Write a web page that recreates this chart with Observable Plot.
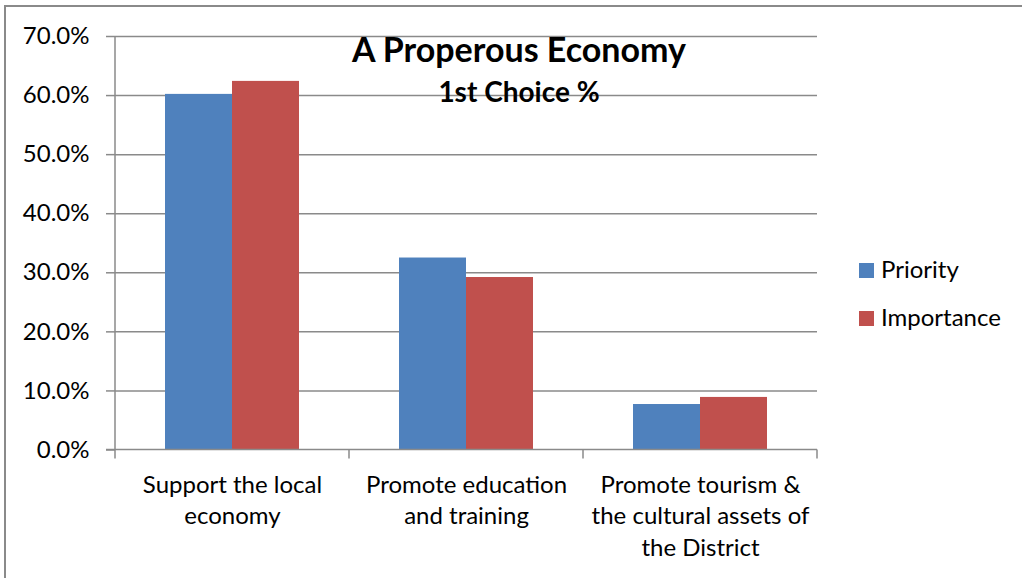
<!DOCTYPE html>
<html><head><meta charset="utf-8">
<script src="https://cdn.jsdelivr.net/npm/d3@7"></script>
<script src="https://cdn.jsdelivr.net/npm/@observablehq/plot@0.6"></script>
<style>
body{margin:0;background:#fff;}
#wrap{position:relative;width:1022px;height:578px;overflow:hidden;font-family:Lato,sans-serif;color:#000;}
#border{position:absolute;left:4px;top:5px;width:1100px;height:700px;border-left:2px solid #8a8a8a;border-top:2px solid #8a8a8a;box-sizing:border-box;}
#chart{position:absolute;left:0;top:0;}
.t{position:absolute;white-space:nowrap;line-height:1em;}
#title{left:219px;width:600px;text-align:center;top:31.8px;font-size:34px;font-weight:700;}
#subtitle{left:219px;width:600px;text-align:center;top:77px;font-size:28px;font-weight:700;}
.sw{position:absolute;width:15px;height:15px;}
.lg{font-size:24px;}
</style></head>
<body>
<div id="wrap">
  <div id="border"></div>
  <div id="chart"></div>
  <div class="t" id="title"></div>
  <div class="t" id="subtitle"></div>
  <div id="legend"></div>
</div>
<script>
const titleText = "A Properous Economy";
const subtitleText = "1st Choice %";
const categories = ["Support the local economy", "Promote education and training", "Promote tourism & the cultural assets of the District"];
const categoryLines = ["Support the local\neconomy", "Promote education\nand training", "Promote tourism &\nthe cultural assets of\nthe District"];
const series = ["Priority", "Importance"];
const priority = [60.2, 32.5, 7.7];
const importance = [62.4, 29.2, 8.9];
const yTicks = [0, 10, 20, 30, 40, 50, 60, 70];
const colors = ["#4F81BD", "#C0504D"];

const data = [];
categories.forEach((c, i) => {
  data.push({category: c, series: "Priority", value: priority[i]});
  data.push({category: c, series: "Importance", value: importance[i]});
});
const labelOf = new Map(categories.map((c, i) => [c, categoryLines[i]]));

document.getElementById("title").textContent = titleText;
document.getElementById("subtitle").textContent = subtitleText;

const chart = Plot.plot({
  width: 1022, height: 578,
  marginLeft: 115, marginRight: 205, marginTop: 36, marginBottom: 128.5,
  style: {fontFamily: "Lato, sans-serif", fontSize: "24px", color: "#000", background: "transparent", overflow: "visible"},
  y: {domain: [0, 70], label: null},
  fx: {domain: categories, padding: 0, label: null},
  x: {domain: series, paddingInner: 0, paddingOuter: 0.746, axis: null},
  color: {domain: series, range: colors},
  marks: [
    Plot.ruleY(yTicks.filter(d => d > 0), {stroke: "#8a8a8a", strokeWidth: 1.5, strokeOpacity: 1}),
    Plot.barY(data, {fx: "category", x: "series", y: "value", fill: "series"}),
    Plot.axisY(yTicks, {tickSize: 9, tickPadding: 17, tickFormat: d => d.toFixed(1) + "%", stroke: "#8a8a8a", strokeWidth: 1.5, strokeOpacity: 1, fill: "#000", fontSize: 24, label: null}),
    Plot.axisFx({anchor: "bottom", tickSize: 0, tickPadding: 21, tickFormat: d => labelOf.get(d), lineHeight: 1.3, fontSize: 24, fill: "#000", label: null})
  ]
});
document.getElementById("chart").appendChild(chart);

// axis lines and category boundary ticks via the library's scales
const svg = d3.select(chart);
const fx = chart.scale("fx");
const y = chart.scale("y");
const y0 = y.apply(0), yTop = y.apply(70);
const xs = categories.map(c => fx.apply(c));
const bw = fx.bandwidth;
const g = svg.append("g").attr("stroke", "#8a8a8a").attr("stroke-width", 1.5);
g.append("line").attr("x1", xs[0]).attr("x2", xs[0]).attr("y1", yTop).attr("y2", y0);
g.append("line").attr("x1", xs[0] - 9).attr("x2", xs[xs.length - 1] + bw).attr("y1", y0).attr("y2", y0);
[...xs, xs[xs.length - 1] + bw].forEach(x => {
  g.append("line").attr("x1", x).attr("x2", x).attr("y1", y0).attr("y2", y0 + 9);
});

// legend
const legend = document.getElementById("legend");
series.forEach((s, i) => {
  const top = 263 + i * 48;
  const sw = document.createElement("div");
  sw.className = "sw";
  sw.style.left = "859px"; sw.style.top = top + "px"; sw.style.background = colors[i];
  legend.appendChild(sw);
  const t = document.createElement("div");
  t.className = "t lg";
  t.style.left = "881px"; t.style.top = (top - 5.7) + "px";
  t.textContent = s;
  legend.appendChild(t);
});
</script>
</body></html>
